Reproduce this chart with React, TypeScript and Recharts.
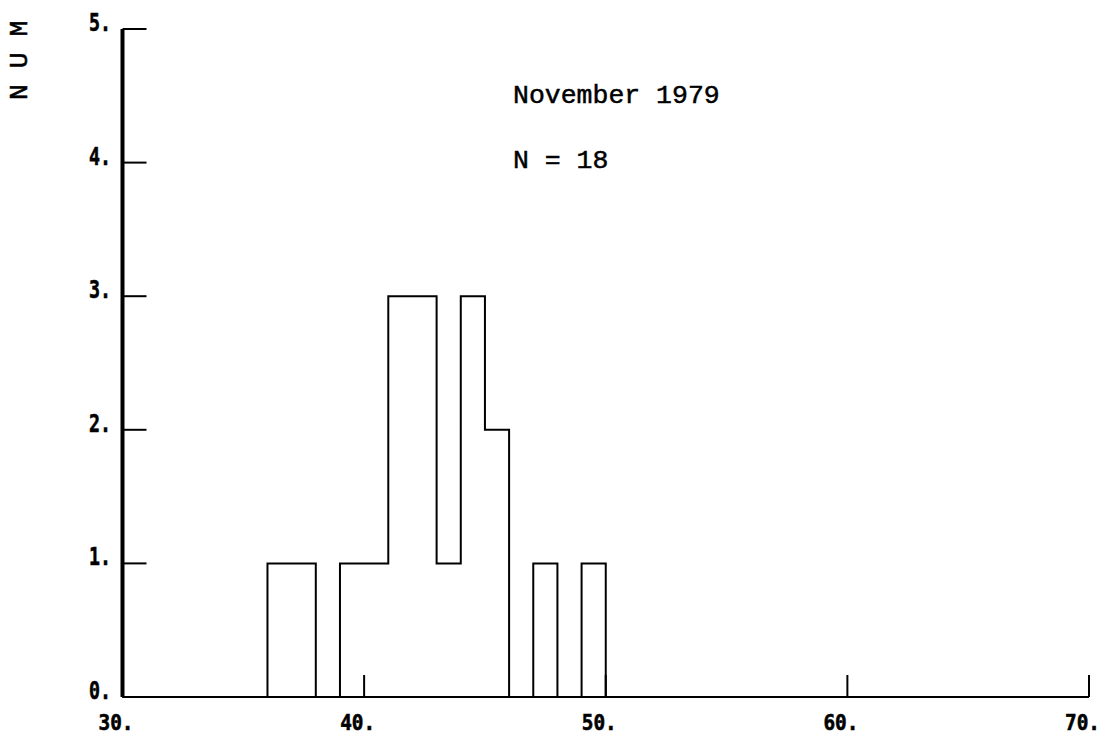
import { ComposedChart, Line, XAxis, YAxis } from "recharts";

// histogram bins (left edge, width 1) and counts, November 1979
const binLeft = [36, 37, 38, 39, 40, 41, 42, 43, 44, 45, 46, 47, 48, 49];
const binCount = [1, 1, 0, 1, 1, 3, 3, 1, 3, 2, 0, 1, 0, 1];
const xTicks = [30, 40, 50, 60, 70];
const yTicks = [0, 1, 2, 3, 4, 5];
const title = "November 1979";
const nLabel = "N = 18";
const yTitle = "N U M";

// outline of the histogram as a step line, closed down to the baseline
const stepData = [
    { x: 30, y: 0 },
    ...binLeft.map((b, i) => ({ x: b, y: binCount[i] })),
    { x: binLeft[binLeft.length - 1] + 1, y: 0 },
];

const tickFont = "'DejaVu Sans Mono', monospace";
const textFont = "'Liberation Mono', 'Courier New', monospace";

function XTick(props: any) {
    const { x, y, payload } = props;
    return (
        <g>
            <line x1={x} x2={x} y1={y - 22} y2={y} stroke="#000" strokeWidth={2} />
            <text x={x - 24} y={y + 33} textAnchor="start" fontFamily={tickFont} fontWeight="bold" fontSize={22}
                textLength={35} lengthAdjust="spacingAndGlyphs" fill="#000" stroke="#000" strokeWidth={0.6}>
                {`${payload.value}.`}
            </text>
        </g>
    );
}

function YTick(props: any) {
    const { x, y, payload } = props;
    return (
        <g>
            <line x1={x} x2={x + 24} y1={y} y2={y} stroke="#000" strokeWidth={2} />
            <text x={x - 33.5} y={y + 2} textAnchor="start" fontFamily={tickFont} fontWeight="bold" fontSize={24}
                textLength={22} lengthAdjust="spacingAndGlyphs" fill="#000" stroke="#000" strokeWidth={0.6}>
                {`${payload.value}.`}
            </text>
        </g>
    );
}

export default function App() {
    return (
        <div style={{ position: "absolute", left: 0, top: 0, width: 1105, height: 737, background: "#fff" }}>
            <ComposedChart
                width={1105}
                height={737}
                data={stepData}
                margin={{ top: 29, right: 16, left: 121.5, bottom: 39 }}
            >
                <XAxis
                    dataKey="x"
                    type="number"
                    domain={[30, 70]}
                    ticks={xTicks}
                    height={1}
                    tickSize={0}
                    tickMargin={0}
                    tickLine={false}
                    axisLine={{ stroke: "#000", strokeWidth: 2 }}
                    tick={<XTick />}
                    interval={0}
                />
                <YAxis
                    type="number"
                    domain={[0, 5]}
                    ticks={yTicks}
                    width={1}
                    tickSize={0}
                    tickMargin={0}
                    tickLine={false}
                    axisLine={{ stroke: "#000", strokeWidth: 4 }}
                    tick={<YTick />}
                    interval={0}
                />
                <Line
                    dataKey="y"
                    type="stepAfter"
                    stroke="#000"
                    strokeWidth={2}
                    dot={false}
                    isAnimationActive={false}
                />
            </ComposedChart>
            <svg width={1105} height={737} style={{ position: "absolute", left: 0, top: 0, pointerEvents: "none" }}>
                <g fontFamily={textFont} fontSize={26.5} fill="#000" stroke="#000" strokeWidth={0.5}>
                    <text x={513} y={103}>{title}</text>
                    <text x={513} y={168}>{nLabel}</text>
                    <text x={27} y={100} transform="rotate(-90 27 100)">{yTitle}</text>
                </g>
            </svg>
        </div>
    );
}
